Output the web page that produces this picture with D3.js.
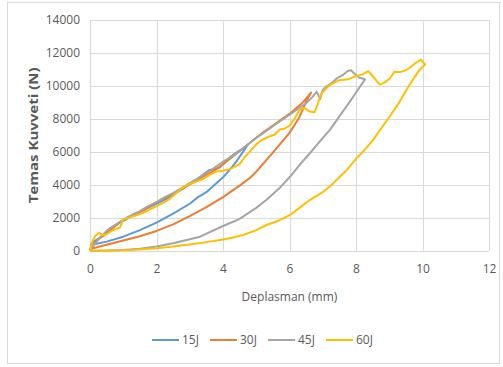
<!DOCTYPE html>
<html>
<head>
<meta charset="utf-8">
<script src="https://cdn.jsdelivr.net/npm/d3@7/dist/d3.min.js"></script>
<style>
  html, body { margin: 0; padding: 0; background: #fff; }
  svg { display: block; font-family: "Open Sans", sans-serif; }
</style>
</head>
<body>
<svg id="chart" width="503" height="367"></svg>
<script>
// Axis ticks
const xTicks = [0, 2, 4, 6, 8, 10, 12];
const yTicks = [0, 2000, 4000, 6000, 8000, 10000, 12000, 14000];

// Series names and colours
const seriesNames = ["15J", "30J", "45J", "60J"];
const seriesColors = ["#5B9BD5", "#ED7D31", "#A5A5A5", "#FFC000"];

// 15J: loading then unloading path (displacement mm, force N)
const x15 = [0, 0.05, 0.15, 0.3, 0.45, 0.6, 0.75, 0.9, 1.05, 1.2, 1.35, 1.5, 1.7, 1.9, 2.1, 2.3, 2.5, 2.7, 2.9, 3.1, 3.3, 3.45, 3.6, 3.75, 3.9, 4.05, 4.2, 4.4, 4.6, 4.75,
             4.6, 4.4, 4.2, 4.0, 3.75, 3.5, 3.25, 3.0, 2.5, 2.0, 1.5, 1.0, 0.5, 0.2, 0];
const y15 = [0, 450, 600, 800, 1050, 1350, 1500, 1700, 1850, 2050, 2250, 2350, 2550, 2750, 2950, 3150, 3400, 3650, 3900, 4150, 4450, 4700, 4900, 4950, 5050, 5350, 5650, 5950, 6200, 6450,
             6000, 5400, 4900, 4450, 4000, 3550, 3250, 2850, 2250, 1700, 1250, 850, 550, 420, 350];

// 30J
const x30 = [0, 0.1, 0.25, 0.4, 0.55, 0.7, 0.85, 1.0, 1.2, 1.4, 1.6, 1.8, 2.0, 2.2, 2.4, 2.6, 2.8, 3.0, 3.2, 3.4, 3.6, 3.8, 4.0, 4.25, 4.5, 4.75, 5.0, 5.25, 5.5, 5.75, 6.0, 6.2, 6.4, 6.55, 6.65,
             6.5, 6.3, 6.0, 5.5, 5.0, 4.8, 4.5, 4.0, 3.5, 3.0, 2.5, 2.0, 1.5, 1.0, 0.5, 0];
const y30 = [0, 350, 700, 900, 1150, 1400, 1650, 1850, 2050, 2250, 2450, 2700, 2950, 3150, 3350, 3550, 3800, 4050, 4250, 4500, 4700, 4950, 5250, 5650, 6050, 6450, 6850, 7250, 7600, 7950, 8300, 8650, 9000, 9350, 9600,
             9050, 8100, 7150, 5950, 4800, 4400, 3950, 3250, 2650, 2100, 1600, 1200, 880, 620, 360, 100];

// 45J
const x45 = [0, 0.1, 0.3, 0.5, 0.7, 0.9, 1.1, 1.3, 1.5, 1.75, 2.0, 2.25, 2.5, 2.75, 3.0, 3.25, 3.5, 3.75, 4.0, 4.25, 4.5, 4.75, 5.0, 5.25, 5.5, 5.75, 6.0, 6.25, 6.5, 6.7, 6.82, 6.92, 7.0, 7.1, 7.25, 7.42, 7.6, 7.75, 7.85, 7.95, 8.1, 8.27,
             8.0, 7.8, 7.5, 7.22, 6.9, 6.62, 6.3, 6.02, 5.7, 5.31, 5.0, 4.51, 4.36, 4.0, 3.31, 3.0, 2.5, 2.0, 1.5, 1.0, 0.5, 0];
const y45 = [0, 300, 800, 1200, 1500, 1750, 2000, 2200, 2400, 2700, 2950, 3250, 3500, 3800, 4100, 4400, 4700, 5050, 5400, 5700, 6050, 6450, 6850, 7200, 7550, 7900, 8250, 8600, 8950, 9350, 9650, 9200, 9750, 9950, 10150, 10450, 10650, 10900, 10950, 10750, 10500, 10400,
             9600, 9000, 8150, 7350, 6600, 5930, 5200, 4500, 3800, 3090, 2600, 1950, 1800, 1500, 850, 700, 450, 250, 120, 50, 10, 0];

// 60J
const x60 = [0, 0.08, 0.18, 0.28, 0.38, 0.5, 0.65, 0.8, 0.9, 1.0, 1.1, 1.25, 1.4, 1.6, 1.8, 2.0, 2.2, 2.4, 2.6, 2.8, 3.0, 3.2, 3.4, 3.6, 3.8, 4.0, 4.2, 4.36, 4.5, 4.66, 4.85, 5.0, 5.16, 5.35, 5.56, 5.71, 5.85, 6.0, 6.15, 6.3, 6.45, 6.6, 6.75, 6.85, 6.95, 7.1, 7.25, 7.5, 7.75, 8.0, 8.2, 8.37, 8.5, 8.62, 8.72, 8.85, 9.02, 9.15, 9.35, 9.5, 9.65, 9.8, 9.95, 10.08,
             9.92, 9.75, 9.52, 9.3, 9.02, 8.75, 8.52, 8.25, 8.02, 7.7, 7.32, 7.0, 6.62, 6.3, 6.02, 5.7, 5.31, 5.0, 4.61, 4.3, 4.0, 3.5, 3.0, 2.5, 2.0, 1.5, 1.0, 0.5, 0];
const y60 = [0, 600, 950, 1080, 950, 1000, 1200, 1350, 1400, 1900, 1950, 2050, 2150, 2300, 2500, 2700, 2900, 3150, 3500, 3850, 4050, 4200, 4350, 4600, 4800, 4850, 4950, 5100, 5250, 5700, 6100, 6450, 6700, 6900, 7050, 7350, 7400, 7600, 8000, 8550, 8650, 8450, 8400, 8900, 9500, 9850, 10100, 10350, 10400, 10600, 10700, 10900, 10600, 10300, 10080, 10200, 10450, 10850, 10850, 10950, 11150, 11400, 11600, 11300,
             11000, 10500, 9780, 9000, 8160, 7400, 6740, 6100, 5620, 4850, 4100, 3550, 3090, 2600, 2170, 1850, 1560, 1250, 955, 800, 680, 520, 380, 250, 150, 70, 20, 5, 0];

const xsAll = [x15, x30, x45, x60];
const ysAll = [y15, y30, y45, y60];
const series = seriesNames.map((name, i) => ({
  name,
  color: seriesColors[i],
  points: xsAll[i].map((x, j) => [x, ysAll[i][j]])
}));

const svg = d3.select("#chart");
const margin = { left: 90, right: 14, top: 20, bottom: 116.3 };
const W = 503, H = 367;

const x = d3.scaleLinear().domain([0, 12]).range([margin.left, W - margin.right]);
const y = d3.scaleLinear().domain([0, 14000]).range([H - margin.bottom, margin.top]);

// Outer chart frame
svg.append("rect")
  .attr("x", 7.5).attr("y", 2.5)
  .attr("width", 492).attr("height", 361)
  .attr("fill", "#fff").attr("stroke", "#d9d9d9").attr("stroke-width", 1);

// Gridlines
const grid = svg.append("g");
grid.selectAll("line.h").data(yTicks).join("line")
  .attr("class", "h")
  .attr("x1", x(0)).attr("x2", x(12))
  .attr("y1", d => Math.round(y(d)) + 0.5).attr("y2", d => Math.round(y(d)) + 0.5)
  .attr("stroke", "#d9d9d9").attr("stroke-width", 1);
grid.selectAll("line.v").data(xTicks).join("line")
  .attr("class", "v")
  .attr("y1", y(0)).attr("y2", y(14000))
  .attr("x1", d => Math.round(x(d)) + 0.5).attr("x2", d => Math.round(x(d)) + 0.5)
  .attr("stroke", "#d9d9d9").attr("stroke-width", 1);

// Axes (labels only; lines drawn as grid)
const xAxis = svg.append("g")
  .attr("transform", `translate(0,${y(0)})`)
  .call(d3.axisBottom(x).tickValues(xTicks).tickFormat(d3.format("d")).tickSize(0).tickPadding(14));
const yAxis = svg.append("g")
  .attr("transform", `translate(${x(0)},0)`)
  .call(d3.axisLeft(y).tickValues(yTicks).tickFormat(d3.format("d")).tickSize(0).tickPadding(10));
[xAxis, yAxis].forEach(g => {
  g.select(".domain").remove();
  g.selectAll("text")
    .attr("fill", "#595959")
    .style("font-family", "'Open Sans', sans-serif")
    .style("font-size", "12px");
});

// Axis titles
svg.append("text")
  .attr("x", (x(0) + x(12)) / 2).attr("y", 301)
  .attr("text-anchor", "middle")
  .attr("fill", "#595959")
  .style("font-size", "12px")
  .text("Deplasman (mm)");

svg.append("text")
  .attr("transform", `translate(38,${(y(0) + y(14000)) / 2}) rotate(-90)`)
  .attr("text-anchor", "middle")
  .attr("fill", "#595959")
  .style("font-size", "12px")
  .style("font-weight", "bold")
  .attr("textLength", 136)
  .attr("lengthAdjust", "spacingAndGlyphs")
  .text("Temas Kuvveti (N)");

// Series lines
const line = d3.line().x(d => x(d[0])).y(d => y(d[1]));
svg.append("g").selectAll("path").data(series).join("path")
  .attr("d", d => line(d.points))
  .attr("fill", "none")
  .attr("stroke", d => d.color)
  .attr("stroke-width", 2)
  .attr("stroke-linejoin", "round");

// Legend
const legendX = d3.scaleLinear().domain([0, 3]).range([152, 326]);
const legend = svg.append("g").selectAll("g").data(series).join("g")
  .attr("transform", (d, i) => `translate(${legendX(i)},340)`);
legend.append("line")
  .attr("x1", 0).attr("x2", 27).attr("y1", 0).attr("y2", 0)
  .attr("stroke", d => d.color).attr("stroke-width", 2);
legend.append("text")
  .attr("x", 30).attr("y", 4)
  .attr("fill", "#595959")
  .style("font-size", "12px")
  .text(d => d.name);
</script>
</body>
</html>
